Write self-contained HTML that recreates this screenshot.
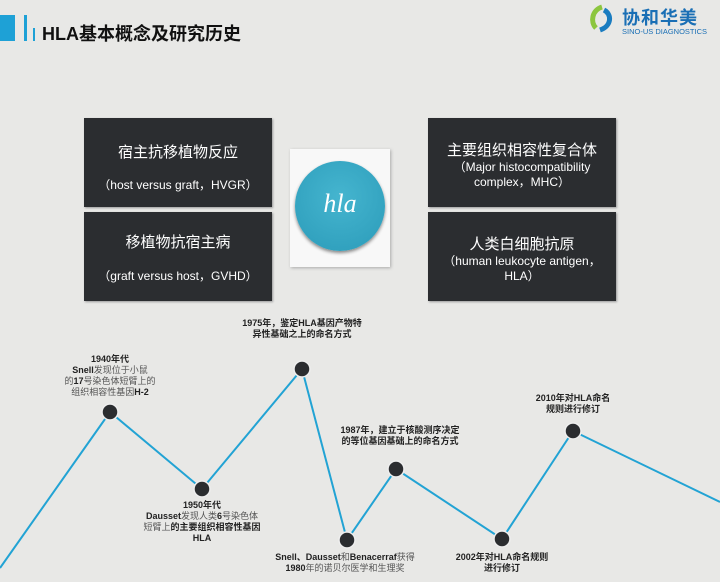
<!DOCTYPE html>
<html><head><meta charset="utf-8"><style>
body{margin:0;width:720px;height:582px;background:#e8e8e6;position:relative;overflow:hidden;font-family:"Liberation Sans","Noto Sans CJK SC",sans-serif}
.a{position:absolute}
.box{position:absolute;background:#2b2d30;color:#fff;text-align:center;box-shadow:1px 1px 2px #999}
.t{position:absolute;font-size:9px;font-weight:bold;color:#222;text-align:center;line-height:11px;white-space:nowrap}
.g{font-weight:normal;color:#555}
</style></head><body>
<div class="a" style="left:0;top:15px;width:15px;height:26px;background:#1ea1d6"></div>
<div class="a" style="left:24px;top:15px;width:3px;height:26px;background:#1ea1d6"></div>
<div class="a" style="left:33px;top:28px;width:2px;height:13px;background:#1ea1d6"></div>
<div class="a" style="left:42px;top:20px;font-size:18px;font-weight:bold;color:#111">HLA基本概念及研究历史</div>
<svg class="a" style="left:588px;top:4px" width="28" height="30"><path d="M14 3 C4 6 2 18 8 24" stroke="#8cc63f" stroke-width="5" fill="none"/><path d="M16 6 C24 10 24 22 12 26" stroke="#1a7cc0" stroke-width="5" fill="none"/></svg>
<div class="a" style="left:622px;top:4px;font-size:18px;font-weight:bold;color:#1a6fb5;letter-spacing:1px">协和华美</div>
<div class="a" style="left:622px;top:27px;font-size:7.5px;color:#1a6fb5;white-space:nowrap">SINO-US DIAGNOSTICS</div>

<div class="box" style="left:84px;top:118px;width:188px;height:89px"><div style="font-size:15px;margin-top:23px">宿主抗移植物反应</div><div style="font-size:12px;margin-top:14px">（host versus graft，HVGR）</div></div>
<div class="box" style="left:84px;top:212px;width:188px;height:89px"><div style="font-size:15px;margin-top:19px">移植物抗宿主病</div><div style="font-size:12px;margin-top:15px">（graft versus host，GVHD）</div></div>
<div class="box" style="left:428px;top:118px;width:188px;height:89px"><div style="font-size:15px;margin-top:21px">主要组织相容性复合体</div><div style="font-size:12px;line-height:15px;margin-top:0">（Major histocompatibility<br>complex，MHC）</div></div>
<div class="box" style="left:428px;top:212px;width:188px;height:89px"><div style="font-size:15px;margin-top:21px">人类白细胞抗原</div><div style="font-size:12px;line-height:15px">（human leukocyte antigen，<br>HLA）</div></div>

<div class="a" style="left:290px;top:149px;width:100px;height:118px;background:#f8f8f8;box-shadow:1px 1px 3px #aaa"></div>
<div class="a" style="left:295px;top:161px;width:90px;height:90px;border-radius:50%;background:radial-gradient(circle at 50% 40%,#45b5cf,#2b9bb9);box-shadow:0 2px 3px #888"></div>
<div class="a" style="left:295px;top:189px;width:90px;text-align:center;font-family:'Liberation Serif',serif;font-style:italic;font-size:26px;color:#fff">hla</div>

<svg class="a" style="left:0;top:0" width="720" height="582">
<polyline points="0,568 110,412 202,489 302,369 347,540 396,469 502,539 573,431 720,502" fill="none" stroke="#22a3d4" stroke-width="2"/>
<g fill="#2b2d30" stroke="#eee" stroke-width="1.5">
<circle cx="110" cy="412" r="8"/><circle cx="202" cy="489" r="8"/><circle cx="302" cy="369" r="8"/><circle cx="347" cy="540" r="8"/><circle cx="396" cy="469" r="8"/><circle cx="502" cy="539" r="8"/><circle cx="573" cy="431" r="8"/></g>
</svg>

<div class="t" style="left:55px;top:354px;width:110px">1940年代<br><span>Snell</span><span class="g">发现位于小鼠</span><br><span class="g">的</span>17<span class="g">号染色体短臂上的</span><br><span class="g">组织相容性基因</span>H-2</div>
<div class="t" style="left:137px;top:500px;width:130px">1950年代<br>Dausset<span class="g">发现人类</span>6<span class="g">号染色体</span><br><span class="g">短臂上</span>的主要组织相容性基因<br>HLA</div>
<div class="t" style="left:222px;top:318px;width:160px">1975年，鉴定HLA基因产物特<br>异性基础之上的命名方式</div>
<div class="t" style="left:270px;top:552px;width:150px">Snell、Dausset<span class="g">和</span>Benacerraf<span class="g">获得</span><br>1980<span class="g">年的诺贝尔医学和生理奖</span></div>
<div class="t" style="left:330px;top:425px;width:140px">1987年，建立于核酸测序决定<br>的等位基因基础上的命名方式</div>
<div class="t" style="left:447px;top:552px;width:110px">2002年对HLA命名规则<br>进行修订</div>
<div class="t" style="left:523px;top:393px;width:100px">2010年对HLA命名<br>规则进行修订</div>
</body></html>
